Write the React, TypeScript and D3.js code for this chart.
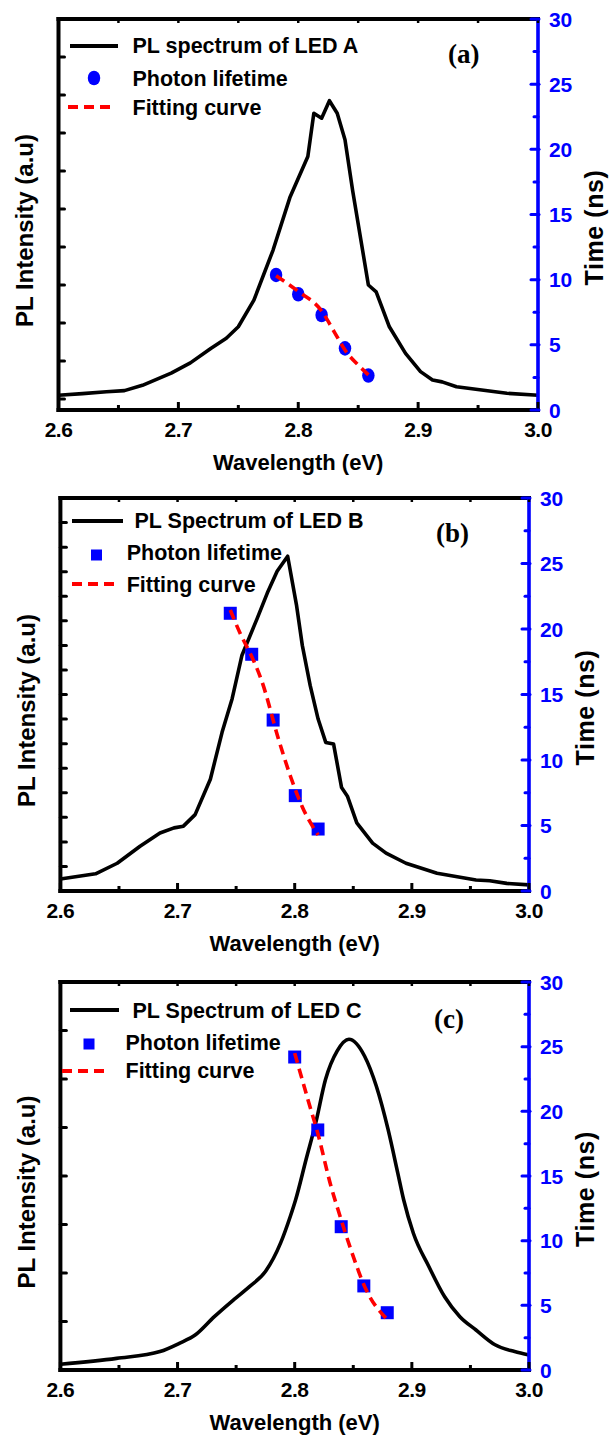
import React from 'react';
import * as d3 from 'd3';

// shared axis ticks
const xTicks = [2.6, 2.7, 2.8, 2.9, 3.0];
const xTickLabels = ['2.6', '2.7', '2.8', '2.9', '3.0'];
const xMinorTicks = [2.65, 2.75, 2.85, 2.95];
const timeTicks = [0, 5, 10, 15, 20, 25, 30];
const timeMinorTicks = [2.5, 7.5, 12.5, 17.5, 22.5, 27.5];

// LED A
const energyA = [2.6, 2.62, 2.64, 2.655, 2.67, 2.694, 2.71, 2.727, 2.74, 2.75, 2.763, 2.779, 2.793, 2.808, 2.813, 2.8195, 2.826, 2.8325, 2.839, 2.8455, 2.8585, 2.865, 2.876, 2.8895, 2.902, 2.912, 2.92, 2.932, 2.974, 3.0];
const intensityA = [0.1, 0.14, 0.19, 0.22, 0.36, 0.68, 0.95, 1.33, 1.6, 1.9, 2.6, 3.92, 5.3, 6.38, 7.52, 7.39, 7.85, 7.52, 6.82, 5.46, 3.0, 2.82, 1.9, 1.2, 0.72, 0.5, 0.45, 0.32, 0.15, 0.1];
const lifeEnergyA = [2.7815, 2.8, 2.8195, 2.839, 2.8585];
const lifetimeA = [10.36, 8.88, 7.29, 4.73, 2.64];
const fitEnergyA = [2.7815, 2.8, 2.8195, 2.83, 2.839, 2.85, 2.8585];
const fitTimeA = [10.3, 9.1, 7.6, 6.0, 4.6, 3.45, 2.7];

// LED B
const energyB = [2.6, 2.63, 2.6485, 2.668, 2.685, 2.697, 2.705, 2.715, 2.728, 2.738, 2.7466, 2.755, 2.768, 2.7766, 2.785, 2.794, 2.8015, 2.8065, 2.8132, 2.82, 2.8265, 2.8332, 2.84, 2.845, 2.853, 2.8665, 2.878, 2.895, 2.9215, 2.9548, 2.9665, 2.981, 3.0];
const intensityB = [0.49, 0.7, 1.13, 1.82, 2.36, 2.57, 2.64, 3.11, 4.55, 6.46, 7.83, 9.6, 11.1, 12.13, 13.02, 13.63, 11.65, 10.0, 8.37, 7.0, 6.05, 5.98, 4.21, 3.86, 2.77, 1.95, 1.54, 1.13, 0.72, 0.45, 0.42, 0.31, 0.25];
const lifeEnergyB = [2.745, 2.7633, 2.7816, 2.8005, 2.82];
const lifetimeB = [21.2, 18.07, 13.05, 7.28, 4.73];
const fitEnergyB = [2.745, 2.7533, 2.7633, 2.7716, 2.7865, 2.7966, 2.8066, 2.82];
const fitTimeB = [21.45, 19.7, 17.9, 16.1, 11.5, 8.7, 6.4, 4.27];

// LED C
const energyC = [2.6, 2.648, 2.685, 2.7015, 2.715, 2.7314, 2.748, 2.7614, 2.775, 2.788, 2.7963, 2.8008, 2.8097, 2.818, 2.8263, 2.8363, 2.8463, 2.8597, 2.8697, 2.8797, 2.888, 2.893, 2.9013, 2.9146, 2.928, 2.941, 2.9545, 2.971, 2.9877, 3.0];
const intensityC = [0.12, 0.24, 0.38, 0.55, 0.72, 1.1, 1.45, 1.72, 2.03, 2.62, 3.17, 3.51, 4.34, 5.1, 5.99, 6.58, 6.82, 6.47, 5.85, 4.96, 4.06, 3.51, 2.82, 2.13, 1.51, 1.1, 0.83, 0.52, 0.38, 0.31];
const lifeEnergyC = [2.8, 2.8197, 2.8397, 2.859, 2.879];
const lifetimeC = [24.2, 18.56, 11.08, 6.5, 4.43];
const fitEnergyC = [2.8, 2.8113, 2.8197, 2.831, 2.838, 2.848, 2.861, 2.878];
const fitTimeC = [24.5, 20.9, 18.3, 14.2, 12.1, 9.3, 6.2, 4.0];

const BLUE = '#0000ff';
const RED = '#ff0000';
const SANS = '"Liberation Sans", Arial, sans-serif';
const SERIF = '"Liberation Serif", "Times New Roman", serif';

const panels = [
  {
    box: { l: 58.5, r: 538, t: 19, b: 410 },
    iDomain: [-0.29, 10], iTicks: d3.range(0, 10),
    energy: energyA, intensity: intensityA,
    lifeE: lifeEnergyA, life: lifetimeA, fitE: fitEnergyA, fitT: fitTimeA,
    marker: 'circle', curve: d3.curveLinear,
    name: 'PL spectrum of LED A', tag: '(a)', tagPos: [448, 63],
    legend: { lineX: [70, 118], lineY: 46, textX: 132.5, textY: 53, mX: 94, mY: 78, mTextX: 132.5, mTextY: 86, fitX: [68, 115], fitY: 107, fitTextY: 115 },
  },
  {
    box: { l: 60.4, r: 529, t: 498, b: 891 },
    iDomain: [0, 16], iTicks: d3.range(0, 17),
    energy: energyB, intensity: intensityB,
    lifeE: lifeEnergyB, life: lifetimeB, fitE: fitEnergyB, fitT: fitTimeB,
    marker: 'square', curve: d3.curveLinear,
    name: 'PL Spectrum of LED B', tag: '(b)', tagPos: [436, 542],
    legend: { lineX: [72, 123], lineY: 521, textX: 134.5, textY: 528, mX: 96.5, mY: 555, mTextX: 126.7, mTextY: 560, fitX: [72, 117], fitY: 584, fitTextY: 591.7 },
  },
  {
    box: { l: 60.4, r: 529, t: 982, b: 1370 },
    iDomain: [0, 8], iTicks: d3.range(0, 9),
    energy: energyC, intensity: intensityC,
    lifeE: lifeEnergyC, life: lifetimeC, fitE: fitEnergyC, fitT: fitTimeC,
    marker: 'square', curve: d3.curveMonotoneX,
    name: 'PL Spectrum of LED C', tag: '(c)', tagPos: [434, 1028],
    legend: { lineX: [70, 119], lineY: 1010, textX: 132.5, textY: 1018, mX: 89, mY: 1044, mTextX: 125.5, mTextY: 1050, fitX: [62, 107], fitY: 1071, fitTextY: 1078 },
  },
];

const Marker = ({ kind, cx, cy, size }) =>
  kind === 'circle'
    ? <ellipse cx={cx} cy={cy} rx={size * 0.48} ry={size * 0.56} fill={BLUE} />
    : <rect x={cx - size / 2} y={cy - size / 2} width={size} height={size} fill={BLUE} />;

const Panel = ({ p }) => {
  const { l, r, t, b } = p.box;
  const x = d3.scaleLinear().domain([2.6, 3.0]).range([l, r]);
  const yT = d3.scaleLinear().domain([0, 30]).range([b, t]);
  const yI = d3.scaleLinear().domain(p.iDomain).range([b, t]);

  const spectrum = d3.line<number>()
    .x((d, i) => x(p.energy[i]))
    .y(d => yI(d))
    .curve(p.curve)(p.intensity);
  const fit = d3.line<number>()
    .x((d, i) => x(p.fitE[i]))
    .y(d => yT(d))
    .curve(d3.curveMonotoneX)(p.fitT);

  const lg = p.legend;
  const topTicks = d3.range(2.65, 3.0, 0.05);

  return (
    <g>
      {/* spectrum */}
      <path d={spectrum} fill="none" stroke="#000" strokeWidth={3.6} strokeLinejoin="round" />
      {/* photon lifetime */}
      {p.life.map((v, i) => (
        <Marker key={i} kind={p.marker} cx={x(p.lifeE[i])} cy={yT(v)} size={13} />
      ))}
      {/* fitting curve */}
      <path d={fit} fill="none" stroke={RED} strokeWidth={3.6} strokeDasharray="10,6" />

      {/* frame */}
      <line x1={l} x2={r} y1={t} y2={t} stroke="#000" strokeWidth={4} strokeLinecap="square" />
      <line x1={l} x2={r} y1={b} y2={b} stroke="#000" strokeWidth={4} strokeLinecap="square" />
      <line x1={l} x2={l} y1={t} y2={b} stroke="#000" strokeWidth={4} strokeLinecap="square" />
      <line x1={r} x2={r} y1={t} y2={b + 1} stroke={BLUE} strokeWidth={3.6} />

      {/* bottom / top ticks */}
      {xTicks.map(v => <line key={'M' + v} x1={x(v)} x2={x(v)} y1={b} y2={b - 8} stroke="#000" strokeWidth={3} />)}
      {xMinorTicks.map(v => <line key={'m' + v} x1={x(v)} x2={x(v)} y1={b} y2={b - 5} stroke="#000" strokeWidth={3} />)}
      {topTicks.map(v => <line key={'t' + v} x1={x(v)} x2={x(v)} y1={t} y2={t + 4} stroke="#000" strokeWidth={2.5} />)}
      {xTicks.map((v, i) => (
        <text key={'L' + v} x={x(v)} y={b + 27} textAnchor="middle" fontFamily={SANS} fontWeight="bold" fontSize={21} letterSpacing={-0.5}>{xTickLabels[i]}</text>
      ))}

      {/* left intensity ticks */}
      {p.iTicks.map(v => <line key={'i' + v} x1={l} x2={l + 6} y1={yI(v)} y2={yI(v)} stroke="#000" strokeWidth={3} strokeLinecap="round" />)}

      {/* right time axis */}
      {timeTicks.map(v => <line key={'T' + v} x1={r - 7} x2={r + 1} y1={yT(v)} y2={yT(v)} stroke={BLUE} strokeWidth={3} strokeLinecap="round" />)}
      {timeMinorTicks.map(v => <line key={'tm' + v} x1={r - 4} x2={r} y1={yT(v)} y2={yT(v)} stroke={BLUE} strokeWidth={3} strokeLinecap="round" />)}
      {timeTicks.map(v => (
        <text key={'TL' + v} x={r + 11} y={yT(v)} dy="0.36em" fill={BLUE} fontFamily={SANS} fontWeight="bold" fontSize={21} letterSpacing={-0.3}>{v}</text>
      ))}

      {/* axis titles */}
      <text x={(l + r) / 2} y={b + 60} textAnchor="middle" fontFamily={SANS} fontWeight="bold" fontSize={22}>Wavelength (eV)</text>
      <text transform={`translate(${l - 25.5},${(t + b) / 2 + 16}) rotate(-90)`} textAnchor="middle" fontFamily={SANS} fontWeight="bold" fontSize={24}>PL Intensity (a.u)</text>
      <text transform={`translate(${r + 65},${(t + b) / 2 + 13}) rotate(-90)`} textAnchor="middle" fontFamily={SANS} fontWeight="bold" fontSize={25} letterSpacing={0.6}>Time (ns)</text>

      {/* panel tag */}
      <text x={p.tagPos[0]} y={p.tagPos[1]} fontFamily={SERIF} fontWeight="bold" fontSize={27}>{p.tag}</text>

      {/* legend */}
      <line x1={lg.lineX[0]} x2={lg.lineX[1]} y1={lg.lineY} y2={lg.lineY} stroke="#000" strokeWidth={4} />
      <text x={lg.textX} y={lg.textY} fontFamily={SANS} fontWeight="bold" fontSize={21.5}>{p.name}</text>
      <Marker kind={p.marker} cx={lg.mX} cy={lg.mY} size={p.marker === 'circle' ? 13 : 11} />
      <text x={lg.mTextX} y={lg.mTextY} fontFamily={SANS} fontWeight="bold" fontSize={21.5}>Photon lifetime</text>
      <line x1={lg.fitX[0]} x2={lg.fitX[1]} y1={lg.fitY} y2={lg.fitY} stroke={RED} strokeWidth={4} strokeDasharray="10,6" />
      <text x={lg.mTextX} y={lg.fitTextY} fontFamily={SANS} fontWeight="bold" fontSize={21.5}>Fitting curve</text>
    </g>
  );
};

export default function App() {
  return (
    <svg width={611} height={1441} style={{ position: 'absolute', left: 0, top: 0, background: '#fff' }}>
      <rect width={611} height={1441} fill="#fff" />
      {panels.map((p, i) => <Panel key={i} p={p} />)}
    </svg>
  );
}
